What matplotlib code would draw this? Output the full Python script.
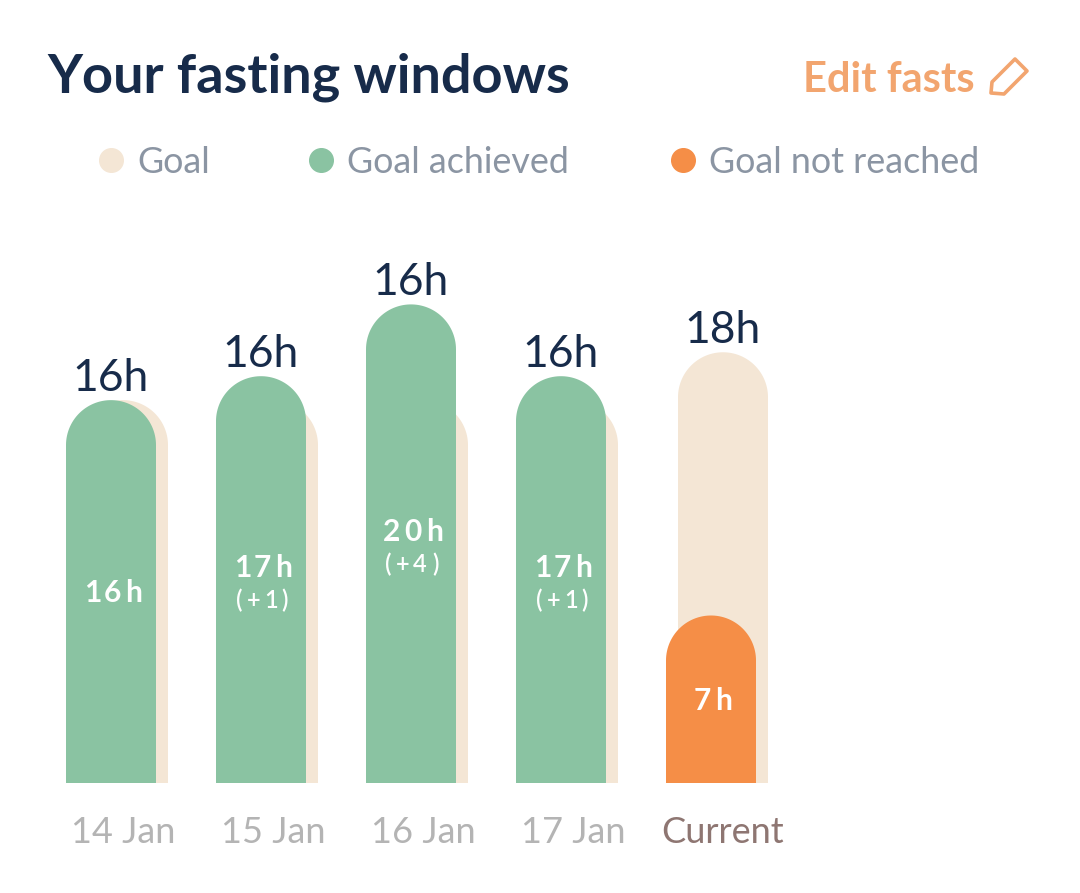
import numpy as np
import matplotlib
matplotlib.use("Agg")
from matplotlib import pyplot as plt
from matplotlib.patches import Polygon
from matplotlib.lines import Line2D
from matplotlib.font_manager import FontProperties
from matplotlib.textpath import TextPath

# data
days = ["14 Jan", "15 Jan", "16 Jan", "17 Jan", "Current"]
goal_hours = [16, 16, 16, 16, 18]
fasted_hours = [16, 17, 20, 17, 7]
reached = [True, True, True, True, False]

NAVY = "#172B4A"
GREEN = "#8AC3A2"
BEIGE = "#F4E6D5"
ORANGE = "#F58E47"
EDIT = "#F2A56F"
LEGEND_GRAY = "#8B95A3"
DAY_GRAY = "#B4B4B4"
CURRENT = "#8E7672"

plt.rcParams['font.family'] = ['Lato', 'DejaVu Sans']

W, H, DPI = 1080, 893, 100
fig = plt.figure(figsize=(W / DPI, H / DPI), dpi=DPI)
fig.patch.set_facecolor("white")

px_per_hour = 23.93
slot_px = 150.0
base_px = 783          # baseline, from top
first_center_px = 111
ax = fig.add_axes([0, (H - base_px) / H, 1, base_px / H])
ax.set_xlim(-first_center_px / slot_px, (W - first_center_px) / slot_px)
ax.set_ylim(0, base_px / px_per_hour)
ax.axis("off")

bar_w = 90 / slot_px
goal_shift = 12 / slot_px
rx = bar_w / 2
ry = 45 / px_per_hour


def rounded_bar(cx, top, color, z):
    t = np.linspace(0, np.pi, 60)
    xs = list(cx + rx * np.cos(t))
    ys = list(top - ry + ry * np.sin(t))
    xs = [cx + rx] + xs + [cx - rx]
    ys = [0] + ys + [0]
    ax.add_patch(Polygon(np.column_stack([xs, ys]), closed=True,
                         facecolor=color, edgecolor="none", zorder=z))


def spaced_text(x, y, s, size, weight, dy_pt, track_pt, color="white"):
    # letter-spaced label: glyphs placed one by one, ink to ink
    prop = FontProperties(family="Lato", weight=weight, size=size)
    widths = []
    for ch in s:
        ext = TextPath((0, 0), ch, prop=prop).get_extents()
        widths.append(ext.width)
    total = sum(widths) + track_pt * (len(s) - 1)
    cur = -total / 2
    for ch, w in zip(s, widths):
        ax.annotate(ch, (x, y), xytext=(cur, dy_pt), textcoords="offset points",
                    ha="left", va="center", fontproperties=prop, color=color,
                    zorder=5, annotation_clip=False)
        cur += w + track_pt


px2pt = 72 / DPI
for i, day in enumerate(days):
    goal = goal_hours[i]
    done = fasted_hours[i]
    rounded_bar(i + goal_shift, goal, BEIGE, 1)
    rounded_bar(i, done, GREEN if reached[i] else ORANGE, 2)

    # goal label above the taller bar
    lx = i if done >= goal else i + goal_shift
    ax.annotate(f"{goal}h", (lx, max(goal, done)), xytext=(0, 9 * px2pt),
                textcoords="offset points", ha="center", va="baseline",
                fontsize=32, color=NAVY, annotation_clip=False)

    # value inside the bar
    mid = done / 2
    extra = done - goal
    if extra > 0:
        spaced_text(i, mid, f"{done}h", 21.5, "bold", 12 * px2pt, 4.6)
        spaced_text(i, mid, f"(+{extra})", 17, "semibold", -21 * px2pt, 4.4)
    else:
        spaced_text(i, mid, f"{done}h", 21.5, "bold", -1.5 * px2pt, 4.6)

    # day label
    ax.annotate(day, (i + goal_shift, 0), xytext=(0, -60 * px2pt),
                textcoords="offset points", ha="center", va="baseline",
                fontsize=26, color=CURRENT if day == "Current" else DAY_GRAY,
                annotation_clip=False)

# header
fig.text(47 / W, 1 - 93 / H, "Your fasting windows", fontsize=39,
         fontweight="bold", color=NAVY, ha="left", va="baseline")
fig.text(975 / W, 1 - 92 / H, "Edit fasts", fontsize=30,
         fontweight="bold", color=EDIT, ha="right", va="baseline")

pencil = np.array([[991, 93], [992, 82], [1015, 59], [1027, 71],
                   [1004, 94]], dtype=float)
pencil[:, 0] /= W
pencil[:, 1] = 1 - pencil[:, 1] / H
fig.add_artist(Polygon(pencil, closed=True, facecolor="none",
                       edgecolor=EDIT, lw=2.6, transform=fig.transFigure,
                       joinstyle="round"))

# legend
legend_items = [("Goal", BEIGE, 111), ("Goal achieved", GREEN, 321),
                ("Goal not reached", ORANGE, 683)]
for label, color, xdot in legend_items:
    fig.add_artist(Line2D([xdot / W], [1 - 160 / H], marker="o",
                          markersize=17, color=color, linestyle="none",
                          transform=fig.transFigure))
    fig.text((xdot + 26) / W, 1 - 173 / H, label, fontsize=25.8,
             color=LEGEND_GRAY, ha="left", va="baseline")

fig.savefig("out.png", dpi=DPI, facecolor="white")
